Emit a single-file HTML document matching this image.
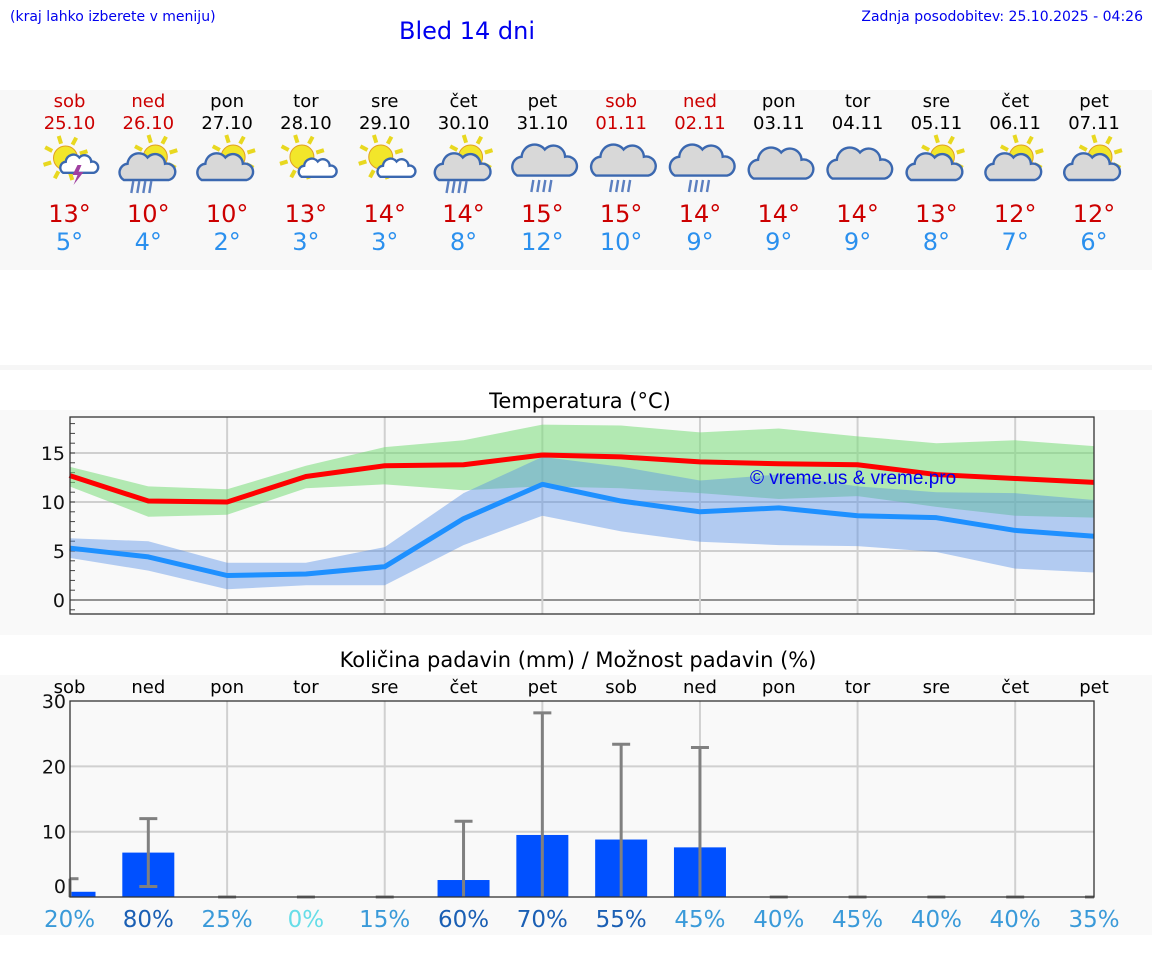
<!DOCTYPE html>
<html><head><meta charset="utf-8"><style>
html,body{margin:0;padding:0;background:#fff;width:1152px;height:975px;overflow:hidden;font-family:"DejaVu Sans","Liberation Sans",sans-serif;}
svg{display:block}
</style></head><body>
<svg id="s" width="1152" height="975" viewBox="0 0 1152 975" xmlns="http://www.w3.org/2000/svg" font-family="DejaVu Sans, Liberation Sans, sans-serif">
<rect x="0" y="90" width="1152" height="180" fill="#f8f8f8"/>
<rect x="0" y="365" width="1152" height="5" fill="#f6f6f6"/>
<rect x="0" y="410" width="1152" height="225" fill="#f9f9f9"/>
<rect x="0" y="675" width="1152" height="260" fill="#f9f9f9"/>
<text x="10" y="21" font-size="14" fill="#0000ee">(kraj lahko izberete v meniju)</text>
<text x="399" y="39" font-size="24" fill="#0000ee">Bled 14 dni</text>
<text x="1143" y="21" font-size="14" fill="#0000ee" text-anchor="end">Zadnja posodobitev: 25.10.2025 - 04:26</text>
<g id="hdr"></g>
<text x="580" y="408" font-size="21" text-anchor="middle" fill="#000">Temperatura (°C)</text>
<g id="tc"></g>
<text x="578" y="667" font-size="21" text-anchor="middle" fill="#000">Količina padavin (mm) / Možnost padavin (%)</text>
<g id="pc"></g>
</svg>
<script>
const days=["sob","ned","pon","tor","sre","čet","pet","sob","ned","pon","tor","sre","čet","pet"];
const dates=["25.10","26.10","27.10","28.10","29.10","30.10","31.10","01.11","02.11","03.11","04.11","05.11","06.11","07.11"];
const icons=["storm","sunrain","suncloud","sunsmall","sunsmall","sunrain","rain","rain","rain","cloud","cloud","suncloud","suncloud","suncloud"];
const tmaxDaily=[13,10,10,13,14,14,15,15,14,14,14,13,12,12];
const tminDaily=[5,4,2,3,3,8,12,10,9,9,9,8,7,6];
const tMax=[12.7,10.1,10.0,12.6,13.7,13.8,14.8,14.6,14.1,13.9,13.8,12.8,12.4,12.0];
const tMaxHi=[13.6,11.6,11.3,13.7,15.6,16.3,17.9,17.8,17.1,17.5,16.7,16.0,16.3,15.7];
const tMaxLo=[11.6,8.5,8.7,11.4,11.8,11.2,11.6,11.4,10.9,10.3,10.6,9.5,8.6,8.4];
const tMin=[5.3,4.4,2.5,2.65,3.4,8.3,11.8,10.1,9.0,9.4,8.6,8.4,7.1,6.5];
const tMinHi=[6.3,6.0,3.8,3.8,5.4,10.9,14.6,13.6,12.2,12.8,11.6,11.0,10.9,10.2];
const tMinLo=[4.3,3.0,1.1,1.5,1.5,5.6,8.6,7.0,5.95,5.6,5.5,4.9,3.2,2.8];
const precip=[0.8,6.8,0,0,0,2.6,9.5,8.8,7.6,0,0,0,0,0];
const precipHi=[2.8,12.0,0,0,0,11.6,28.2,23.4,22.9,0,0,0,0,0];
const precipLo=[0,1.6,0,0,0,0,0,0,0,0,0,0,0,0];
const chance=[20,80,25,0,15,60,70,55,45,40,45,40,40,35];
const tempTicks=[0,5,10,15];
const precipTicks=[0,10,20,30];

const NS="http://www.w3.org/2000/svg";
function mk(parent,tag,attrs,txt){const e=document.createElementNS(NS,tag);for(const k in attrs)e.setAttribute(k,attrs[k]);if(txt!==undefined)e.textContent=txt;parent.appendChild(e);return e;}
const X0=69.5,DX=(1094-69.5)/13;
const xAt=i=>X0+i*DX;

const hdr=document.getElementById('hdr');
function sun(g,cx,cy,r){
  for(let k=0;k<8;k++){const a=k*Math.PI/4-0.3;mk(g,'line',{x1:cx+Math.cos(a)*(r+3),y1:cy+Math.sin(a)*(r+3),x2:cx+Math.cos(a)*(r+11),y2:cy+Math.sin(a)*(r+11),stroke:'#e8d820','stroke-width':4});}
  mk(g,'circle',{cx:cx,cy:cy,r:r,fill:'#f2e62a',stroke:'#e0a020','stroke-width':1});
}
function cloud(g,cx,cy,s,fill){
  const p=`M${cx-18*s},${cy+8*s} a${7*s},${7*s} 0 0 1 ${3*s},${-13*s} a${9*s},${9*s} 0 0 1 ${16*s},${-5*s} a${8*s},${8*s} 0 0 1 ${14*s},${5*s} a${6*s},${6*s} 0 0 1 ${3*s},${13*s} z`;
  mk(g,'path',{d:p,fill:fill,stroke:'#3b68b0','stroke-width':2.4});
}
function rain(g,cx,cy){for(let k=0;k<4;k++)mk(g,'line',{x1:cx-9+k*6,y1:cy,x2:cx-11+k*6,y2:cy+12,stroke:'#5b7fc0','stroke-width':2.4});}
for(let i=0;i<14;i++){
  const cx=xAt(i);const we=i===0||i===1||i===7||i===8;
  const g=mk(hdr,'g',{});
  
  
  mk(g,'text',{x:cx,y:107,'font-size':18,'text-anchor':'middle',fill:we?'#cc0000':'#000'},days[i]);
  mk(g,'text',{x:cx,y:129,'font-size':18,'text-anchor':'middle',fill:we?'#cc0000':'#000'},dates[i]);
  const ic=mk(g,'g',{});
  
  
  const t=icons[i];
  if(t==='storm'){sun(ic,cx-4,158,12);cloud(ic,cx+9,166,0.85,'#fff');mk(ic,'path',{d:`M${cx+8},${165} l-5,10 h5 l-4,10 l10,-13 h-5 l3,-7 z`,fill:'#a040a0'});}
  else if(t==='sunrain'){sun(ic,cx+7,157,12);cloud(ic,cx-2,170,1.25,'#d8d8d8');rain(ic,cx-6,181);}
  else if(t==='suncloud'){sun(ic,cx+6,157,12);cloud(ic,cx-3,170,1.25,'#d8d8d8');}
  else if(t==='sunsmall'){sun(ic,cx-4,157,12);cloud(ic,cx+11,170,0.85,'#fff');}
  else if(t==='rain'){cloud(ic,cx+1,164,1.45,'#d8d8d8');rain(ic,cx,180);}
  else if(t==='cloud'){cloud(ic,cx+1,167,1.45,'#d8d8d8');}
  mk(g,'text',{x:cx,y:222,'font-size':24,'text-anchor':'middle',fill:'#cc0000'},tmaxDaily[i]+'°');
  mk(g,'text',{x:cx,y:250,'font-size':24,'text-anchor':'middle',fill:'#2b90ee'},tminDaily[i]+'°');
}

const tc=document.getElementById('tc');
const TL=70,TR=1094,TT=417,TB=614;
const ty=v=>600-v*9.8;
mk(tc,'rect',{x:TL,y:TT,width:TR-TL,height:TB-TT,fill:'#f9f9f9'});
for(const v of tempTicks){mk(tc,'line',{x1:TL,x2:TR,y1:ty(v),y2:ty(v),stroke:v===0?'#555':'#cfcfcf','stroke-width':v===0?1.2:2});
  const t=mk(tc,'text',{x:TL-5,y:ty(v)+7,'font-size':19,'text-anchor':'end',fill:'#111'},String(v));
  
  }
for(let i=2;i<14;i+=2)mk(tc,'line',{x1:xAt(i),x2:xAt(i),y1:TT,y2:TB,stroke:'#d0d0d0','stroke-width':2});
for(let v=-1;v<=18;v++)mk(tc,'line',{x1:TL,x2:TL+5,y1:ty(v),y2:ty(v),stroke:'#444','stroke-width':1});
function band(hi,lo,fill,name){let d='M'+hi.map((v,i)=>xAt(i)+','+ty(v)).join(' L');d+=' L'+lo.map((v,i)=>xAt(i)+','+ty(v)).reverse().join(' L')+' Z';
  const p=mk(tc,'path',{d:d,fill:fill});}
band(tMaxHi,tMaxLo,'rgba(120,220,120,0.55)','max-temp-range');
band(tMinHi,tMinLo,'rgba(80,140,230,0.42)','min-temp-range');
function line(vals,col,name){const p=mk(tc,'polyline',{points:vals.map((v,i)=>xAt(i)+','+ty(v)).join(' '),fill:'none',stroke:col,'stroke-width':5,'stroke-linejoin':'round'});
  }
line(tMin,'#1e90ff','min-temp-line');
line(tMax,'#ff0000','max-temp-line');
mk(tc,'rect',{x:TL,y:TT,width:TR-TL,height:TB-TT,fill:'none',stroke:'#333','stroke-width':1.3});
const wm=mk(tc,'text',{x:750,y:484,'font-size':19,fill:'#0000ee',"font-family":"Liberation Sans, sans-serif"},'© vreme.us & vreme.pro');



const pc=document.getElementById('pc');
const PL=70,PR=1094,PT=701,PB=897;
const py=v=>PB-v*6.53;
mk(pc,'rect',{x:PL,y:PT,width:PR-PL,height:PB-PT,fill:'#f9f9f9'});
for(const v of precipTicks){if(v>0&&v<30)mk(pc,'line',{x1:PL,x2:PR,y1:py(v),y2:py(v),stroke:'#d0d0d0','stroke-width':2});
  const t=mk(pc,'text',{x:PL-4,y:(v===0?py(v)-4:py(v)+7),'font-size':19,'text-anchor':'end',fill:'#111'},String(v));
  
  }
for(let i=2;i<14;i+=2)mk(pc,'line',{x1:xAt(i),x2:xAt(i),y1:PT,y2:PB,stroke:'#d0d0d0','stroke-width':2});
for(let i=0;i<14;i++){
  const cx=xAt(i);
  const dl=mk(pc,'text',{x:cx,y:693,'font-size':18,'text-anchor':'middle',fill:'#000'},days[i]);
  
  
  if(precip[i]>0){const x1=Math.max(PL,cx-26),x2=Math.min(PR,cx+26);
    const b=mk(pc,'rect',{x:x1,y:py(precip[i]),width:x2-x1,height:PB-py(precip[i]),fill:'#0050ff'});
    
    }
  const ex=Math.max(PL,cx);
  const eb=mk(pc,'g',{stroke:'#808080','stroke-width':3});
  
  
  mk(eb,'line',{x1:ex,x2:ex,y1:py(precipHi[i]),y2:py(precipLo[i])});
  mk(eb,'line',{x1:Math.max(PL,cx-9),x2:Math.min(PR,cx+9),y1:py(precipHi[i]),y2:py(precipHi[i])});
  if(precipLo[i]>0)mk(eb,'line',{x1:cx-9,x2:cx+9,y1:py(precipLo[i]),y2:py(precipLo[i])});
  const c=chance[i];const col=c===0?'#66dde8':(c>=55?'#1a5fb4':'#3a9ad9');
  const pl=mk(pc,'text',{x:cx,y:927,'font-size':23,'text-anchor':'middle',fill:col},c+'%');
  
  
}
mk(pc,'rect',{x:PL,y:PT,width:PR-PL,height:PB-PT,fill:'none',stroke:'#333','stroke-width':1.3});
</script>
</body></html>
